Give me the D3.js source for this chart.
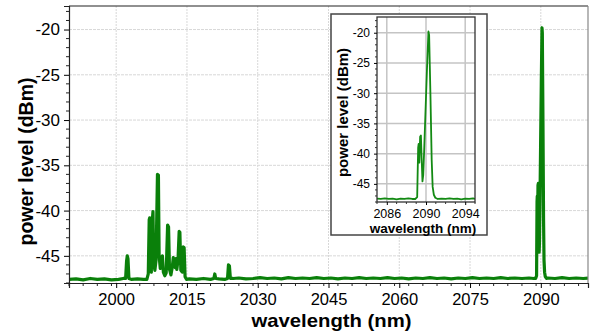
<!DOCTYPE html>
<html>
<head>
<meta charset="utf-8">
<script src="https://cdn.jsdelivr.net/npm/d3@7"></script>
<style>
  body { margin: 0; background: #fff; }
  svg { display: block; font-family: "Liberation Sans", Arial, sans-serif; }
  .grid line { stroke: #d8d8d8; stroke-width: 1; }
  .tick text { fill: #000; }
</style>
</head>
<body>
<div id="chart"></div>
<script>
// noise floor of the spectrum, [wavelength nm, power dBm]
const noiseFloor = [
  [1990, -47.6], [1991.5, -47.55], [1993, -47.65], [1994.5, -47.5], [1996, -47.6],
  [1997.5, -47.55], [1999, -47.65], [2000.5, -47.6], [2001.5, -47.5], [2003.2, -47.6],
  [2004.5, -47.55], [2005.8, -47.6], [2015.5, -47.55], [2017, -47.6], [2018.5, -47.5],
  [2020, -47.6], [2021.8, -47.55], [2023, -47.6], [2024.8, -47.5], [2026, -47.45],
  [2027.5, -47.55], [2029, -47.5], [2030.5, -47.4], [2032, -47.5], [2033.5, -47.45],
  [2035, -47.55], [2036.5, -47.4], [2038, -47.5], [2039.5, -47.45], [2041, -47.5],
  [2042.5, -47.4], [2044, -47.5], [2045.5, -47.45], [2047, -47.55], [2048.5, -47.45],
  [2050, -47.5], [2051.5, -47.4], [2053, -47.5], [2054.5, -47.45], [2056, -47.5],
  [2057.5, -47.4], [2059, -47.5], [2060.5, -47.45], [2062, -47.55], [2063.5, -47.45],
  [2065, -47.5], [2066.5, -47.4], [2068, -47.5], [2069.5, -47.45], [2071, -47.55],
  [2072.5, -47.45], [2074, -47.5], [2075.5, -47.4], [2077, -47.5], [2078.5, -47.45],
  [2080, -47.5], [2081.5, -47.4], [2083, -47.5], [2084.5, -47.45], [2086, -47.5],
  [2087.5, -47.45], [2088.5, -47.5], [2091.5, -47.45], [2093, -47.5], [2094.5, -47.4],
  [2096, -47.5], [2097.5, -47.45], [2099, -47.5], [2100, -47.45]
];

// short wavelength side modes
const sideModes = [
  [2002.0, -47.5], [2002.2, -45.6], [2002.35, -45.0], [2002.5, -45.3], [2002.7, -47.5],
  [2006.5, -47.6], [2006.8, -47.0], [2007.0, -41.0], [2007.1, -40.8], [2007.25, -46.5],
  [2007.45, -46.8], [2007.6, -41.5], [2007.8, -40.1], [2007.95, -45.8], [2008.2, -46.6],
  [2008.45, -45.5], [2008.75, -36.0], [2008.95, -36.1], [2009.1, -45.0], [2009.35, -46.4],
  [2009.6, -45.2], [2009.8, -45.0], [2010.0, -46.8], [2010.3, -47.2], [2010.6, -46.9],
  [2010.9, -41.6], [2011.1, -41.8], [2011.3, -46.5], [2011.6, -47.1], [2011.9, -46.2],
  [2012.1, -45.2], [2012.3, -45.6], [2012.5, -46.3], [2012.7, -45.3], [2012.85, -46.5],
  [2013.1, -45.5], [2013.35, -42.3], [2013.5, -42.4], [2013.7, -46.6], [2014.0, -46.8],
  [2014.2, -44.0], [2014.4, -44.1], [2014.6, -47.3], [2014.9, -47.6],
  [2020.7, -47.5], [2020.9, -47.0], [2021.1, -47.5],
  [2023.6, -47.5], [2023.8, -46.0], [2024.0, -46.1], [2024.2, -47.5]
];

// main laser line near 2090 nm
const laserLine = [
  [2088.9, -47.5], [2089.1, -47.2], [2089.2, -39.0], [2089.25, -38.4], [2089.32, -41.5],
  [2089.4, -37.2], [2089.48, -37.0], [2089.56, -41.0], [2089.64, -44.6], [2089.72, -43.5],
  [2089.8, -40.0], [2089.95, -33.0], [2090.1, -26.0], [2090.25, -19.8], [2090.32, -20.4],
  [2090.45, -30.0], [2090.58, -41.0], [2090.68, -45.5], [2090.8, -46.8], [2090.95, -47.3],
  [2091.2, -47.5]
];

// finer noise floor used by the zoomed inset
const insetFloor = [
  [2085, -47.45], [2085.4, -47.5], [2085.8, -47.4], [2086.2, -47.5], [2086.6, -47.45],
  [2087, -47.55], [2087.4, -47.45], [2087.8, -47.5], [2088.2, -47.4], [2088.6, -47.5],
  [2091.6, -47.45], [2092, -47.5], [2092.4, -47.4], [2092.8, -47.5], [2093.2, -47.45],
  [2093.6, -47.55], [2094, -47.45], [2094.4, -47.5], [2094.8, -47.4], [2095, -47.5]
];

const xTicksMain = [2000, 2015, 2030, 2045, 2060, 2075, 2090];
const yTicks = [-45, -40, -35, -30, -25, -20];
const xTicksInset = [2086, 2090, 2094];

const byNm = (a, b) => a[0] - b[0];
const mainSeries = noiseFloor.concat(sideModes, laserLine).sort(byNm);
const insetSeries = insetFloor.concat(laserLine).sort(byNm);

const W = 590, H = 332;
const m = { left: 69, right: 588, top: 6, bottom: 283 };
const plain = d => String(d); // hyphen minus, like the original

const svg = d3.select('#chart').append('svg')
  .attr('width', W).attr('height', H);

const x = d3.scaleLinear().domain([1990, 2100]).range([m.left, m.right]);
const y = d3.scaleLinear().domain([-48, -17.4]).range([m.bottom, m.top]);

// grid
const grid = svg.append('g').attr('class', 'grid');
grid.selectAll('.vx').data(xTicksMain).enter().append('line')
  .attr('x1', d => x(d)).attr('x2', d => x(d))
  .attr('y1', m.top).attr('y2', m.bottom)
  .attr('stroke-dasharray', '2,1');
grid.selectAll('.hy').data(yTicks).enter().append('line')
  .attr('x1', m.left).attr('x2', m.right)
  .attr('y1', d => y(d)).attr('y2', d => y(d))
  .attr('stroke-dasharray', '3,1');

svg.append('clipPath').attr('id', 'clipMain').append('rect')
  .attr('x', m.left).attr('y', m.top)
  .attr('width', m.right - m.left).attr('height', m.bottom - m.top);

const lineMain = d3.line().x(d => x(d[0])).y(d => y(d[1]));
svg.append('path')
  .datum(mainSeries)
  .attr('clip-path', 'url(#clipMain)')
  .attr('fill', 'none')
  .attr('stroke', '#0a800a')
  .attr('stroke-width', 3.2)
  .attr('stroke-linejoin', 'round')
  .attr('d', lineMain);

// frame
svg.append('line').attr('x1', m.left).attr('x2', m.right).attr('y1', m.top).attr('y2', m.top)
  .attr('stroke', '#222').attr('stroke-width', 1.2);
svg.append('line').attr('x1', m.right).attr('x2', m.right).attr('y1', m.top).attr('y2', m.bottom)
  .attr('stroke', '#888').attr('stroke-width', 1.2);

// axes
const minorX = d3.range(1990, 2101, 3).filter(v => !xTicksMain.includes(v));
const minorY = d3.range(-48, -17, 1).filter(v => !yTicks.includes(v));

const gx = svg.append('g').attr('transform', `translate(0,${m.bottom})`);
gx.call(d3.axisBottom(x).tickValues(xTicksMain).tickFormat(plain)
    .tickSize(5).tickPadding(5.5))
  .call(g => g.select('.domain').attr('stroke', '#222').attr('stroke-width', 1.2))
  .call(g => g.selectAll('.tick text').attr('font-size', 16.5));
gx.selectAll('.minor').data(minorX).enter().append('line')
  .attr('x1', d => x(d)).attr('x2', d => x(d)).attr('y1', 0).attr('y2', 3)
  .attr('stroke', '#222');

const gy = svg.append('g').attr('transform', `translate(${m.left},0)`);
gy.call(d3.axisLeft(y).tickValues(yTicks).tickFormat(plain).tickSize(5).tickPadding(4))
  .call(g => g.select('.domain').attr('stroke', '#222').attr('stroke-width', 1.2))
  .call(g => g.selectAll('.tick text').attr('font-size', 17));
gy.selectAll('.minor').data(minorY).enter().append('line')
  .attr('x1', -3).attr('x2', 0).attr('y1', d => y(d)).attr('y2', d => y(d))
  .attr('stroke', '#222');

svg.append('text')
  .attr('x', (m.left + m.right) / 2 + 3).attr('y', 327)
  .attr('text-anchor', 'middle')
  .attr('font-weight', 'bold').attr('font-size', 19)
  .attr('textLength', 160).attr('lengthAdjust', 'spacingAndGlyphs')
  .text('wavelength (nm)');

svg.append('text')
  .attr('transform', `translate(33,${(m.top + m.bottom) / 2 + 17}) rotate(-90)`)
  .attr('text-anchor', 'middle')
  .attr('font-weight', 'bold').attr('font-size', 19.5)
  .text('power level (dBm)');

// ---- inset ----
const box = { x: 331, y: 14, w: 156, h: 221 };
const im = { left: 377, right: 475, top: 17, bottom: 202 };

svg.append('rect')
  .attr('x', box.x).attr('y', box.y).attr('width', box.w).attr('height', box.h)
  .attr('fill', '#fff').attr('stroke', '#444').attr('stroke-width', 1.5);

const xi = d3.scaleLinear().domain([2085, 2095]).range([im.left, im.right]);
const yi = d3.scaleLinear().domain([-48, -17.4]).range([im.bottom, im.top]);

const ig = svg.append('g');
ig.selectAll('.gx').data(xTicksInset).enter().append('line')
  .attr('x1', d => xi(d)).attr('x2', d => xi(d))
  .attr('y1', im.top).attr('y2', im.bottom)
  .attr('stroke', '#c4c4c4').attr('stroke-width', 1.5);
ig.selectAll('.gy').data(yTicks).enter().append('line')
  .attr('x1', im.left).attr('x2', im.right)
  .attr('y1', d => yi(d)).attr('y2', d => yi(d))
  .attr('stroke', '#c4c4c4').attr('stroke-width', 1.5);

svg.append('clipPath').attr('id', 'clipInset').append('rect')
  .attr('x', im.left).attr('y', im.top)
  .attr('width', im.right - im.left).attr('height', im.bottom - im.top);

const lineInset = d3.line().x(d => xi(d[0])).y(d => yi(d[1]));
ig.append('path')
  .datum(insetSeries)
  .attr('clip-path', 'url(#clipInset)')
  .attr('fill', 'none')
  .attr('stroke', '#138a13')
  .attr('stroke-width', 1.8)
  .attr('stroke-linejoin', 'round')
  .attr('d', lineInset);

ig.append('rect')
  .attr('x', im.left).attr('y', im.top)
  .attr('width', im.right - im.left).attr('height', im.bottom - im.top)
  .attr('fill', 'none').attr('stroke', '#333').attr('stroke-width', 1.3);

const minorXi = d3.range(2085, 2096, 1).filter(v => !xTicksInset.includes(v));
const gxi = ig.append('g').attr('transform', `translate(0,${im.bottom})`);
gxi.call(d3.axisBottom(xi).tickValues(xTicksInset).tickFormat(plain)
    .tickSize(3).tickPadding(4))
  .call(g => g.select('.domain').remove())
  .call(g => g.selectAll('.tick text').attr('font-size', 12.5));
gxi.selectAll('.minor').data(minorXi).enter().append('line')
  .attr('x1', d => xi(d)).attr('x2', d => xi(d)).attr('y1', 0).attr('y2', 2)
  .attr('stroke', '#333');

const gyi = ig.append('g').attr('transform', `translate(${im.left},0)`);
gyi.call(d3.axisLeft(yi).tickValues(yTicks).tickFormat(plain).tickSize(3).tickPadding(4))
  .call(g => g.select('.domain').remove())
  .call(g => g.selectAll('.tick text').attr('font-size', 12));
gyi.selectAll('.minor').data(minorY).enter().append('line')
  .attr('x1', -2).attr('x2', 0).attr('y1', d => yi(d)).attr('y2', d => yi(d))
  .attr('stroke', '#333');

ig.append('text')
  .attr('x', (im.left + im.right) / 2 - 3).attr('y', 232.5)
  .attr('text-anchor', 'middle')
  .attr('font-weight', 'bold').attr('font-size', 13.5)
  .text('wavelength (nm)');

ig.append('text')
  .attr('transform', `translate(348,${(im.top + im.bottom) / 2 + 3}) rotate(-90)`)
  .attr('text-anchor', 'middle')
  .attr('font-weight', 'bold').attr('font-size', 15)
  .text('power level (dBm)');
</script>
</body>
</html>
